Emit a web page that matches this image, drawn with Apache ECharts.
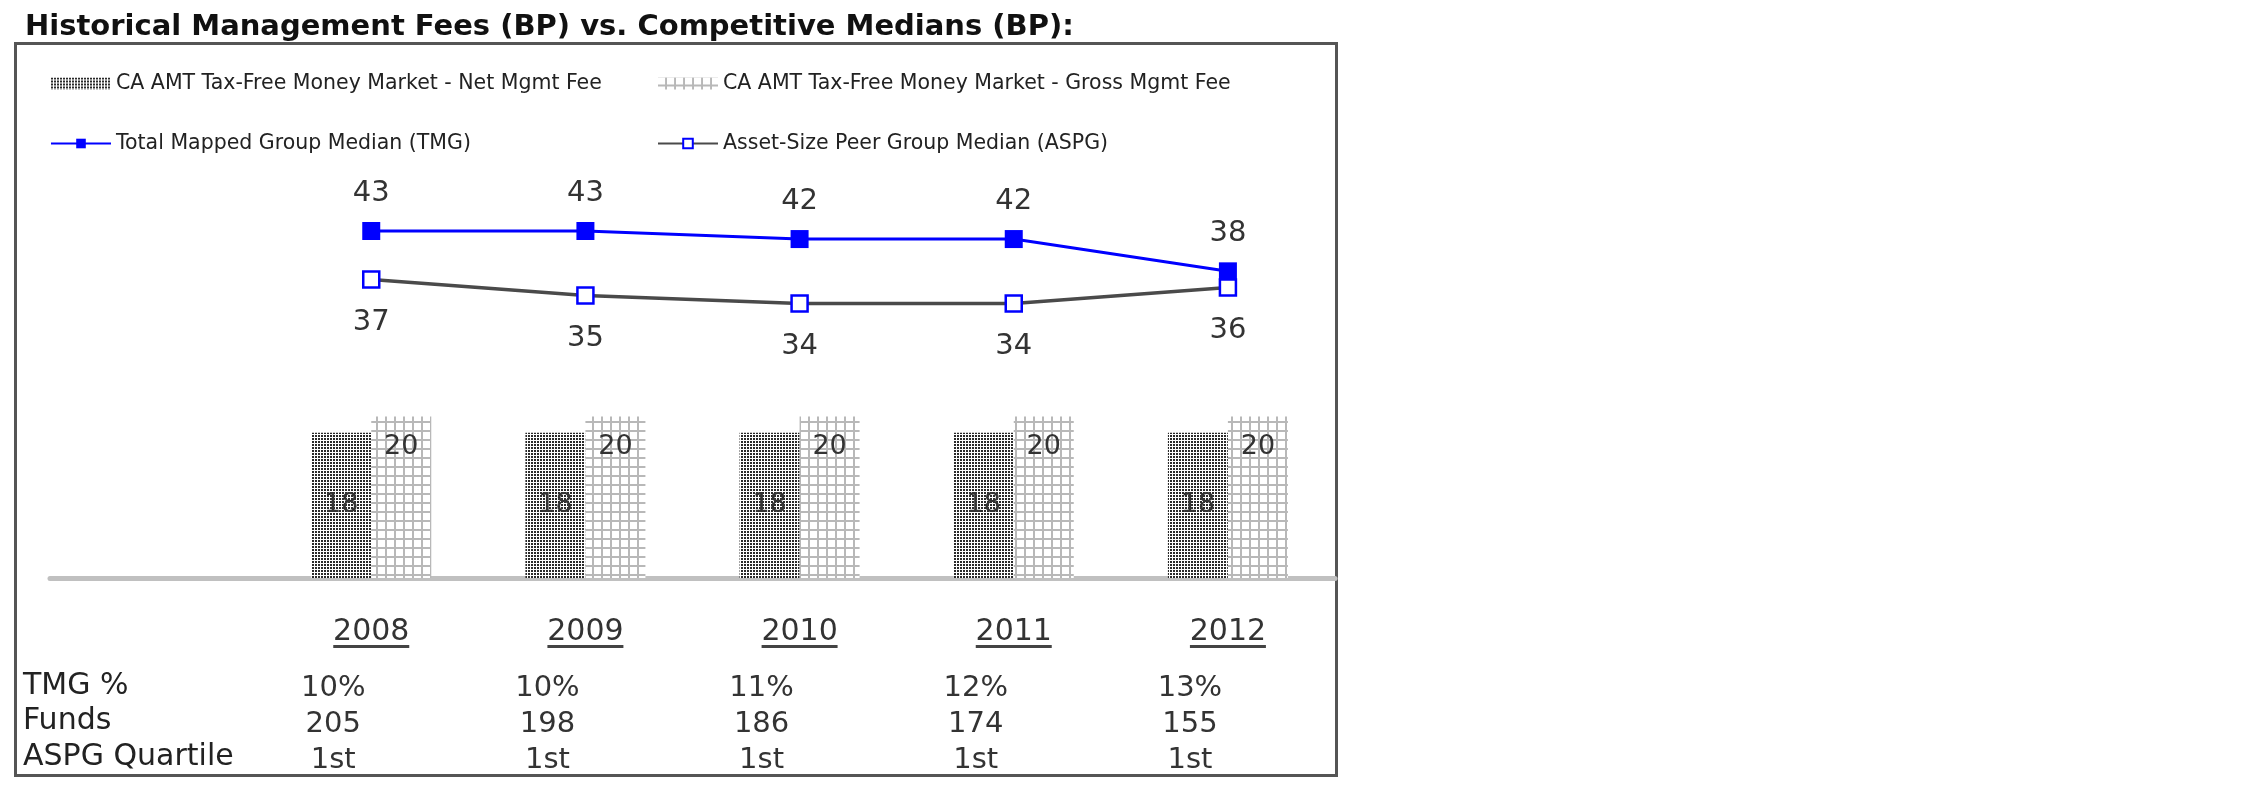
<!DOCTYPE html>
<html>
<head>
<meta charset="utf-8">
<script src="https://cdn.jsdelivr.net/npm/echarts@6/dist/echarts.min.js"></script>
<style>
html,body{margin:0;padding:0;background:#fff;}
#chart{width:2250px;height:796px;}
</style>
</head>
<body>
<div id="chart"></div>
<script>
const categories = ['2008', '2009', '2010', '2011', '2012'];
const netFee = [18, 18, 18, 18, 18];
const grossFee = [20, 20, 20, 20, 20];
const tmgMedian = [43, 43, 42, 42, 38];
const aspgMedian = [37, 35, 34, 34, 36];
const tmgPct = ['10%', '10%', '11%', '12%', '13%'];
const funds = [205, 198, 186, 174, 155];
const aspgQuartile = ['1st', '1st', '1st', '1st', '1st'];
const rowLabels = ['TMG %', 'Funds', 'ASPG Quartile'];

const FONT = 'DejaVu Sans';

function makePattern(kind) {
  const c = document.createElement('canvas');
  if (kind === 'dots') {
    c.width = 3; c.height = 3;
    const g = c.getContext('2d');
    g.fillStyle = '#ffffff'; g.fillRect(0, 0, 3, 3);
    g.fillStyle = '#2a2a2a'; g.fillRect(0, 0, 2, 2);
  } else {
    c.width = 9; c.height = 9;
    const g = c.getContext('2d');
    g.fillStyle = '#ffffff'; g.fillRect(0, 0, 9, 9);
    g.fillStyle = '#b8b8b8';
    g.fillRect(7, 0, 2, 9);
    g.fillRect(0, 7, 9, 2);
  }
  return { image: c, repeat: 'repeat' };
}

const axisData = [''].concat(categories);
const pad = arr => ['-'].concat(arr);

const chart = echarts.init(document.getElementById('chart'), null, { renderer: 'canvas' });

const option = {
  backgroundColor: '#ffffff',
  animation: false,
  title: {
    text: 'Historical Management Fees (BP) vs. Competitive Medians (BP):',
    left: 20, top: 5,
    textStyle: { fontFamily: FONT, fontSize: 29, fontWeight: 'bold', color: '#111', lineHeight: 34 }
  },
  legend: [
    {
      left: 45, top: 68, orient: 'vertical', itemWidth: 60, itemHeight: 12, itemGap: 39,
      textStyle: { fontFamily: FONT, fontSize: 20.5, color: '#222', lineHeight: 20 },
      data: [{ name: 'CA AMT Tax-Free Money Market - Net Mgmt Fee', icon: 'rect' }, 'Total Mapped Group Median (TMG)']
    },
    {
      left: 652, top: 68, orient: 'vertical', itemWidth: 60, itemHeight: 12, itemGap: 39,
      textStyle: { fontFamily: FONT, fontSize: 20.5, color: '#222', lineHeight: 20 },
      data: [{ name: 'CA AMT Tax-Free Money Market - Gross Mgmt Fee', icon: 'rect' }, 'Asset-Size Peer Group Median (ASPG)']
    }
  ],
  grid: { left: 50, right: 915, top: 174.5, bottom: 218, containLabel: false },
  xAxis: {
    type: 'category',
    data: axisData,
    axisTick: { show: false },
    axisLine: { show: true, lineStyle: { color: '#c0c0c0', width: 5 } },
    axisLabel: {
      interval: 0,
      margin: 41,
      hideOverlap: false,
      formatter: function (value, idx) {
        if (value === '') return '';
        const i = idx - 1;
        return '{y|' + value + '}\n{u|}\n{s| }\n{v|' + tmgPct[i] + '}\n{v|' + funds[i] + '}\n{v|' + aspgQuartile[i] + '}';
      },
      rich: {
        y: { fontFamily: FONT, fontSize: 30, lineHeight: 26, color: '#333' },
        u: { width: 76, height: 3, lineHeight: 3, backgroundColor: '#444' },
        s: { fontSize: 10, lineHeight: 22 },
        v: { fontFamily: FONT, fontSize: 29, lineHeight: 36, color: '#333', padding: [0, 76, 0, 0] }
      }
    }
  },
  yAxis: { type: 'value', min: 0, max: 50, show: false, splitLine: { show: false } },
  series: [
    {
      name: 'CA AMT Tax-Free Money Market - Net Mgmt Fee',
      type: 'bar', data: pad(netFee), barWidth: 60, barGap: '0%',
      itemStyle: { color: makePattern('dots') },
      label: { show: true, position: 'inside', fontFamily: FONT, fontSize: 27, color: '#333' }
    },
    {
      name: 'CA AMT Tax-Free Money Market - Gross Mgmt Fee',
      type: 'bar', data: pad(grossFee), barWidth: 60,
      itemStyle: { color: makePattern('grid') },
      label: { show: true, position: 'insideTop', distance: 17, fontFamily: FONT, fontSize: 27, color: '#333' }
    },
    {
      name: 'Total Mapped Group Median (TMG)',
      type: 'line', data: pad(tmgMedian), symbol: 'rect', symbolSize: 18,
      lineStyle: { color: '#0000ff', width: 3 },
      itemStyle: { color: '#0000ff' },
      label: { show: true, position: 'top', distance: 14, fontFamily: FONT, fontSize: 29, color: '#333' },
      z: 5
    },
    {
      name: 'Asset-Size Peer Group Median (ASPG)',
      type: 'line', data: pad(aspgMedian), symbol: 'rect', symbolSize: 16,
      lineStyle: { color: '#4a4a4a', width: 3.5 },
      itemStyle: { color: '#ffffff', borderColor: '#0000ff', borderWidth: 2.5 },
      label: { show: true, position: 'bottom', distance: 19, fontFamily: FONT, fontSize: 29, color: '#333' },
      z: 6
    }
  ],
  graphic: [
    { type: 'rect', shape: { x: 15.5, y: 43.5, width: 1321, height: 732 }, style: { fill: 'none', stroke: '#555', lineWidth: 3 }, silent: true }
  ].concat(rowLabels.map(function (t, k) {
    return {
      type: 'text', x: 23, y: [686, 721, 757][k],
      style: { text: t, fontFamily: FONT, fontSize: 30, fill: '#222', verticalAlign: 'middle' }
    };
  }))
};
chart.setOption(option);
</script>
</body>
</html>
